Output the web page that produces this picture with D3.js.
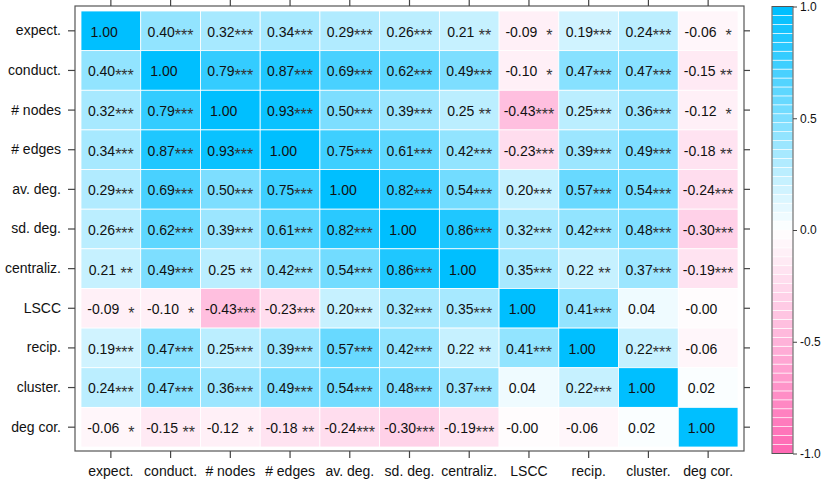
<!DOCTYPE html>
<html><head><meta charset="utf-8">
<script src="https://cdn.jsdelivr.net/npm/d3@7"></script>
<style>
body{margin:0;background:#fff;}
svg{display:block;font-family:"Liberation Sans",Arial,sans-serif;}
text{white-space:pre;}
</style></head>
<body>
<svg id="chart" width="831" height="483"></svg>
<script>
const categories = ["expect.","conduct.","# nodes","# edges","av. deg.","sd. deg.","centraliz.","LSCC","recip.","cluster.","deg cor."];
const corrValues = [
  [ 1.00, 0.40, 0.32, 0.34, 0.29, 0.26, 0.21,-0.09, 0.19, 0.24,-0.06],
  [ 0.40, 1.00, 0.79, 0.87, 0.69, 0.62, 0.49,-0.10, 0.47, 0.47,-0.15],
  [ 0.32, 0.79, 1.00, 0.93, 0.50, 0.39, 0.25,-0.43, 0.25, 0.36,-0.12],
  [ 0.34, 0.87, 0.93, 1.00, 0.75, 0.61, 0.42,-0.23, 0.39, 0.49,-0.18],
  [ 0.29, 0.69, 0.50, 0.75, 1.00, 0.82, 0.54, 0.20, 0.57, 0.54,-0.24],
  [ 0.26, 0.62, 0.39, 0.61, 0.82, 1.00, 0.86, 0.32, 0.42, 0.48,-0.30],
  [ 0.21, 0.49, 0.25, 0.42, 0.54, 0.86, 1.00, 0.35, 0.22, 0.37,-0.19],
  [-0.09,-0.10,-0.43,-0.23, 0.20, 0.32, 0.35, 1.00, 0.41, 0.04,-0.001],
  [ 0.19, 0.47, 0.25, 0.39, 0.57, 0.42, 0.22, 0.41, 1.00, 0.22,-0.06],
  [ 0.24, 0.47, 0.36, 0.49, 0.54, 0.48, 0.37, 0.04, 0.22, 1.00, 0.02],
  [-0.06,-0.15,-0.12,-0.18,-0.24,-0.30,-0.19,-0.001,-0.06, 0.02, 1.00]
];
const corrStars = [
  ["",   "***","***","***","***","***","**", "*",  "***","***","*"],
  ["***","",   "***","***","***","***","***","*",  "***","***","**"],
  ["***","***","",   "***","***","***","**", "***","***","***","*"],
  ["***","***","***","",   "***","***","***","***","***","***","**"],
  ["***","***","***","***","",   "***","***","***","***","***","***"],
  ["***","***","***","***","***","",   "***","***","***","***","***"],
  ["**", "***","**", "***","***","***","",   "***","**", "***","***"],
  ["*",  "*",  "***","***","***","***","***","",   "***","",   ""],
  ["***","***","***","***","***","***","**", "***","",   "***",""],
  ["***","***","***","***","***","***","***","",   "***","",   ""],
  ["*",  "**", "*",  "**", "***","***","***","",   "",   "",   ""]
];
const keyTicks = [-1.0,-0.5,0.0,0.5,1.0];

const svg = d3.select("#chart");
const nBins = 50;
const ramp = d3.piecewise(d3.interpolateRgb, ["#FF69B4","#FFFFFF","#00BFFF"]);
const binScale = d3.scaleQuantize().domain([-1,1]).range(d3.range(nBins));
const colorOf = v => ramp(Math.min(nBins-1, binScale(v)) / (nBins-1));

const x = d3.scaleBand().domain(categories).range([81,738]);
const y = d3.scaleBand().domain(categories).range([11,447]);

const cells = [];
corrValues.forEach((row,i)=>row.forEach((v,j)=>cells.push({r:categories[i],c:categories[j],v,s:corrStars[i][j]})));

svg.append("g").selectAll("rect").data(cells).join("rect")
  .attr("x",d=>x(d.c)).attr("y",d=>y(d.r))
  .attr("width",x.bandwidth()).attr("height",y.bandwidth())
  .attr("fill",d=>colorOf(d.v))
  .attr("stroke","#fff").attr("stroke-width",0.8);

const txt = svg.append("g").selectAll("text").data(cells).join("text")
  .attr("x",d=>x(d.c)+x.bandwidth()/2).attr("y",d=>y(d.r)+y.bandwidth()/2)
  .attr("dy","0.42em").attr("text-anchor","middle")
  .attr("font-size",14).attr("fill","#111");
txt.append("tspan").text(d=>d.v.toFixed(2));
txt.append("tspan").attr("dy",4.5).attr("fill","#333").attr("font-size",16).text(d=>d.s.padStart(3," "));

// box
svg.append("rect").attr("x",75).attr("y",6).attr("width",669).attr("height",445)
  .attr("fill","none").attr("stroke","#555").attr("stroke-width",1.2);

function styleAxis(g, showText){
  g.select(".domain").remove();
  g.selectAll("line").attr("stroke","#444").attr("stroke-width",1.2);
  g.selectAll("text").attr("font-size",14).attr("fill","#111")
   .attr("font-family","'Liberation Sans',Arial,sans-serif");
  if(!showText) g.selectAll("text").remove();
}
svg.append("g").attr("transform","translate(75,0)")
  .call(d3.axisLeft(y).tickSize(7).tickPadding(7)).call(g=>styleAxis(g,true));
svg.append("g").attr("transform","translate(0,451)")
  .call(d3.axisBottom(x).tickSize(7).tickPadding(8)).call(g=>styleAxis(g,true));
svg.append("g").attr("transform","translate(0,6)")
  .call(d3.axisTop(x).tickSize(6)).call(g=>styleAxis(g,false));
svg.append("g").attr("transform","translate(744,0)")
  .call(d3.axisRight(y).tickSize(6)).call(g=>styleAxis(g,false));

// colour key
const ky = d3.scaleLinear().domain([-1,1]).range([453.5,6.5]);
const bins = d3.range(nBins).map(i=>({lo:-1+2*i/nBins, hi:-1+2*(i+1)/nBins, i}));
svg.append("g").selectAll("rect").data(bins).join("rect")
  .attr("x",772).attr("width",21)
  .attr("y",d=>ky(d.hi)).attr("height",d=>ky(d.lo)-ky(d.hi))
  .attr("fill",d=>ramp(d.i/(nBins-1)))
  .attr("stroke","#fff").attr("stroke-width",0.6);
svg.append("rect").attr("x",772).attr("y",6.5).attr("width",21).attr("height",447)
  .attr("fill","none").attr("stroke","#555").attr("stroke-width",1);
const kAxis = svg.append("g").attr("transform","translate(793,0)")
  .call(d3.axisRight(ky).tickValues(keyTicks).tickFormat(d3.format(".1f")).tickSize(4).tickPadding(3));
kAxis.select(".domain").remove();
kAxis.selectAll("line").attr("stroke","#444");
kAxis.selectAll("text").attr("font-size",12).attr("fill","#111")
  .attr("font-family","'Liberation Sans',Arial,sans-serif")
  .text(d=>d.toFixed(1));
</script>
</body></html>
